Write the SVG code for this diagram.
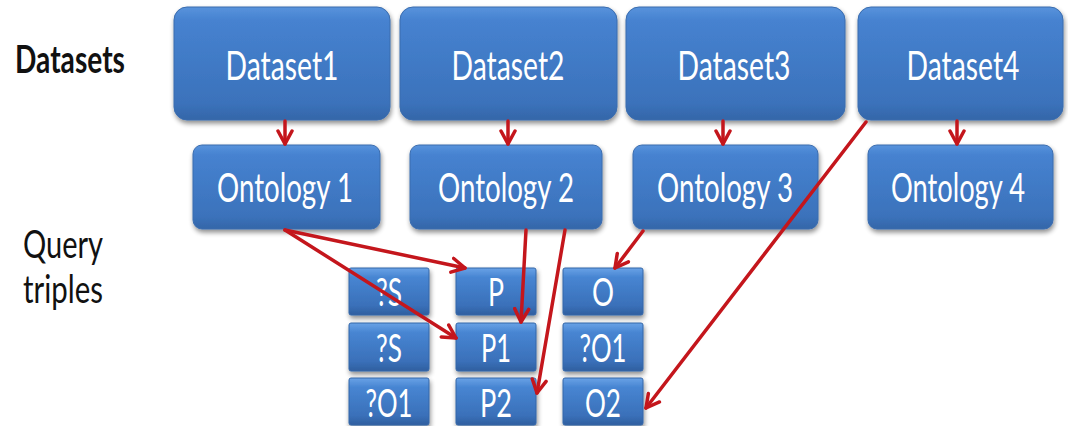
<svg xmlns="http://www.w3.org/2000/svg" width="1068" height="426" viewBox="0 0 1068 426">
  <defs>
    <linearGradient id="blueFill" x1="0" y1="0" x2="0" y2="1">
      <stop offset="0" stop-color="#5893dc"/>
      <stop offset="0.12" stop-color="#4682d0"/>
      <stop offset="0.85" stop-color="#3b72bb"/>
      <stop offset="1" stop-color="#3466a8"/>
    </linearGradient>
    <linearGradient id="tripleFill" x1="0" y1="0" x2="0" y2="1">
      <stop offset="0" stop-color="#6aa2e6"/>
      <stop offset="0.2" stop-color="#4785d2"/>
      <stop offset="0.8" stop-color="#3a70b9"/>
      <stop offset="1" stop-color="#2f5f9f"/>
    </linearGradient>
    <filter id="shadow" x="-10%" y="-10%" width="125%" height="135%">
      <feGaussianBlur in="SourceAlpha" stdDeviation="2.5"/>
      <feOffset dx="1" dy="3" result="b"/>
      <feComponentTransfer><feFuncA type="linear" slope="0.45"/></feComponentTransfer>
      <feMerge><feMergeNode/><feMergeNode in="SourceGraphic"/></feMerge>
    </filter>
    <marker id="arrow" viewBox="0 0 18 18" refX="15" refY="9" markerWidth="18" markerHeight="18" markerUnits="userSpaceOnUse" orient="auto">
      <path d="M2,2 L15,9 L2,16" fill="none" stroke="#c4161c" stroke-width="3.5" stroke-linecap="round" stroke-linejoin="round"/>
    </marker>
  </defs>
  <style>
    .box { fill: url(#blueFill); stroke: #3a6cae; stroke-width: 1; filter: url(#shadow); }
    .tri { fill: url(#tripleFill); stroke: #3567a8; stroke-width: 1; filter: url(#shadow); }
    .lbl { font-family: Lato, "Open Sans", sans-serif; fill: #ffffff; font-size: 41px; text-anchor: middle; }
    .tlbl { font-family: Lato, "Open Sans", sans-serif; fill: #ffffff; font-size: 38px; text-anchor: middle; }
    .side { font-family: Lato, "Open Sans", sans-serif; fill: #111111; font-size: 38px; font-weight: bold; }
    .side2 { font-family: Lato, "Open Sans", sans-serif; fill: #111111; font-size: 38px; }
    .conn { stroke: #c4161c; stroke-width: 3.5; fill: none; stroke-linecap: round; marker-end: url(#arrow); }
  </style>

  <!-- row labels -->
  <text class="side" x="15" y="73" textLength="110" lengthAdjust="spacingAndGlyphs">Datasets</text>
  <text class="side2" x="23" y="258" textLength="80" lengthAdjust="spacingAndGlyphs">Query</text>
  <text class="side2" x="23" y="303" textLength="80" lengthAdjust="spacingAndGlyphs">triples</text>

  <!-- datasets -->
  <g id="dataset1"><rect class="box" x="174" y="7" width="216" height="113" rx="13"/><text class="lbl" x="282" y="80" textLength="113" lengthAdjust="spacingAndGlyphs">Dataset1</text></g>
  <g id="dataset2"><rect class="box" x="400" y="7" width="217" height="113" rx="13"/><text class="lbl" x="508" y="80" textLength="113" lengthAdjust="spacingAndGlyphs">Dataset2</text></g>
  <g id="dataset3"><rect class="box" x="626" y="7" width="219" height="113" rx="13"/><text class="lbl" x="734" y="80" textLength="113" lengthAdjust="spacingAndGlyphs">Dataset3</text></g>
  <g id="dataset4"><rect class="box" x="858" y="7" width="205" height="113" rx="13"/><text class="lbl" x="963" y="80" textLength="113" lengthAdjust="spacingAndGlyphs">Dataset4</text></g>

  <!-- ontologies -->
  <g id="ontology1"><rect class="box" x="193" y="145" width="187" height="84" rx="9"/><text class="lbl" x="285" y="202" textLength="136" lengthAdjust="spacingAndGlyphs">Ontology 1</text></g>
  <g id="ontology2"><rect class="box" x="410" y="145" width="192" height="84" rx="9"/><text class="lbl" x="506" y="202" textLength="136" lengthAdjust="spacingAndGlyphs">Ontology 2</text></g>
  <g id="ontology3"><rect class="box" x="633" y="145" width="185" height="84" rx="9"/><text class="lbl" x="725" y="202" textLength="136" lengthAdjust="spacingAndGlyphs">Ontology 3</text></g>
  <g id="ontology4"><rect class="box" x="868" y="145" width="185" height="84" rx="9"/><text class="lbl" x="958" y="202" textLength="134" lengthAdjust="spacingAndGlyphs">Ontology 4</text></g>

  <!-- query triples -->
  <g id="t1s"><rect class="tri" x="349" y="268" width="80" height="47" rx="2"/><text class="tlbl" x="389" y="306" textLength="26" lengthAdjust="spacingAndGlyphs">?S</text></g>
  <g id="t1p"><rect class="tri" x="456" y="268" width="80" height="47" rx="2"/><text class="tlbl" x="496" y="306" textLength="16" lengthAdjust="spacingAndGlyphs">P</text></g>
  <g id="t1o"><rect class="tri" x="563" y="268" width="80" height="47" rx="2"/><text class="tlbl" x="603" y="306" textLength="22" lengthAdjust="spacingAndGlyphs">O</text></g>
  <g id="t2s"><rect class="tri" x="349" y="323" width="80" height="48" rx="2"/><text class="tlbl" x="389" y="362" textLength="26" lengthAdjust="spacingAndGlyphs">?S</text></g>
  <g id="t2p"><rect class="tri" x="456" y="323" width="80" height="48" rx="2"/><text class="tlbl" x="496" y="362" textLength="30" lengthAdjust="spacingAndGlyphs">P1</text></g>
  <g id="t2o"><rect class="tri" x="563" y="323" width="80" height="48" rx="2"/><text class="tlbl" x="603" y="362" textLength="47" lengthAdjust="spacingAndGlyphs">?O1</text></g>
  <g id="t3s"><rect class="tri" x="349" y="378" width="80" height="47" rx="2"/><text class="tlbl" x="389" y="417" textLength="47" lengthAdjust="spacingAndGlyphs">?O1</text></g>
  <g id="t3p"><rect class="tri" x="456" y="378" width="80" height="47" rx="2"/><text class="tlbl" x="496" y="417" textLength="32" lengthAdjust="spacingAndGlyphs">P2</text></g>
  <g id="t3o"><rect class="tri" x="563" y="378" width="80" height="47" rx="2"/><text class="tlbl" x="603" y="417" textLength="36" lengthAdjust="spacingAndGlyphs">O2</text></g>

  <!-- connectors -->
  <g id="connectors">
    <line class="conn" x1="285" y1="121" x2="285" y2="144"/>
    <line class="conn" x1="508" y1="121" x2="508" y2="144"/>
    <line class="conn" x1="723" y1="121" x2="723" y2="144"/>
    <line class="conn" x1="957" y1="121" x2="957" y2="144"/>
    <line class="conn" x1="866" y1="122" x2="646" y2="408"/>
    <line class="conn" x1="285" y1="230" x2="465" y2="268"/>
    <line class="conn" x1="285" y1="230" x2="456" y2="338"/>
    <line class="conn" x1="526" y1="230" x2="521" y2="322"/>
    <line class="conn" x1="565" y1="230" x2="537" y2="393"/>
    <line class="conn" x1="643" y1="231" x2="615" y2="268"/>
  </g>
</svg>
